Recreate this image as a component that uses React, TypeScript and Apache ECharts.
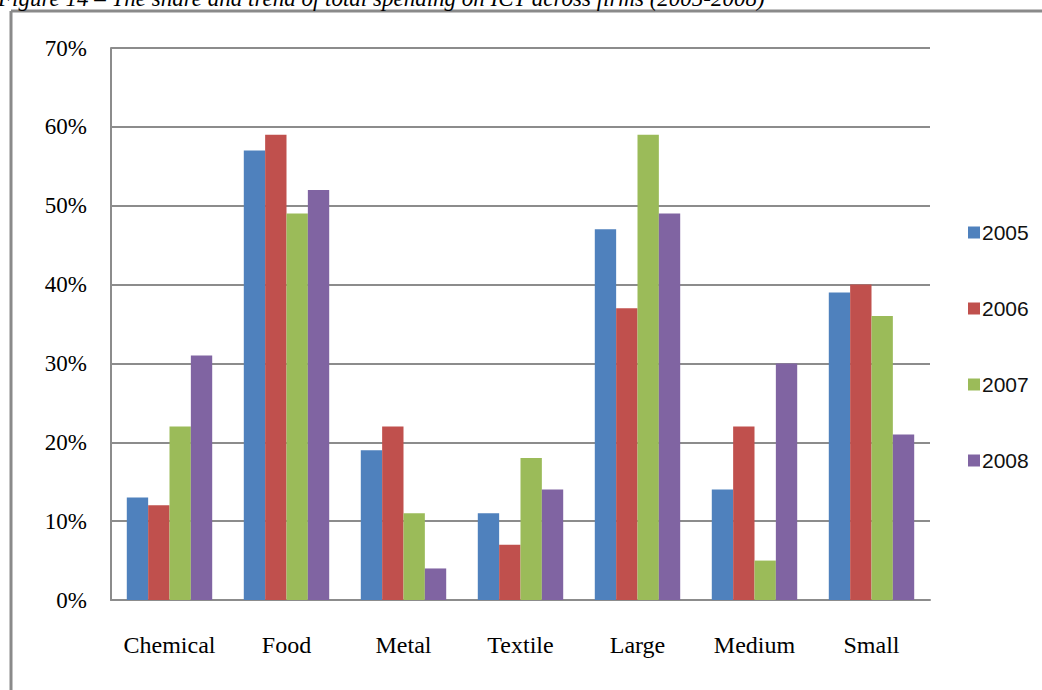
import React, { useEffect, useRef } from "react";
import * as echarts from "echarts";

const categories = ["Chemical", "Food", "Metal", "Textile", "Large", "Medium", "Small"];
const seriesNames = ["2005", "2006", "2007", "2008"];
const v2005 = [13, 57, 19, 11, 47, 14, 39];
const v2006 = [12, 59, 22, 7, 37, 22, 40];
const v2007 = [22, 49, 11, 18, 59, 5, 36];
const v2008 = [31, 52, 4, 14, 49, 30, 21];
const colors = ["#4F81BD", "#C0504D", "#9BBB59", "#8064A2"];
const titleText = "Figure 14 \u2013 The share and trend of total spending on ICT across firms (2005-2008)";

export default function App() {
  const ref = useRef<HTMLDivElement>(null);
  useEffect(() => {
    if (!ref.current) return;
    const chart = echarts.init(ref.current, undefined, { renderer: "svg" });
    const data = [v2005, v2006, v2007, v2008];
    chart.setOption({
      animation: false,
      backgroundColor: "#ffffff",
      color: colors,
      grid: { left: 111, top: 48, right: 112, bottom: 90, containLabel: false },
      legend: {
        orient: "vertical",
        left: 963,
        top: 217,
        itemWidth: 12,
        itemHeight: 12,
        itemGap: 55,
        icon: "rect",
        textStyle: { fontFamily: "Liberation Sans", fontSize: 21, color: "#111", padding: [0, 0, 0, -3] },
        data: seriesNames,
      },
      xAxis: {
        type: "category",
        data: categories,
        axisLine: { show: true, lineStyle: { color: "#8c8c8c", width: 2 } },
        axisTick: { show: false },
        axisLabel: { interval: 0, fontFamily: "Liberation Serif", fontSize: 24, color: "#000", margin: 33 },
      },
      yAxis: {
        type: "value",
        min: 0,
        max: 70,
        interval: 10,
        axisLine: { show: true, lineStyle: { color: "#8c8c8c", width: 2 } },
        axisTick: { show: false },
        splitLine: { lineStyle: { color: "#8c8c8c", width: 2 } },
        axisLabel: {
          formatter: "{value}%",
          fontFamily: "Liberation Serif",
          fontSize: 23,
          color: "#000",
          margin: 24,
        },
      },
      series: seriesNames.map((name, i) => ({
        name,
        type: "bar",
        data: data[i],
        barGap: "0%",
        barCategoryGap: "27%",
        itemStyle: { color: colors[i] },
      })),
      graphic: [
        {
          type: "line",
          shape: { x1: 11, y1: 11, x2: 11, y2: 700 },
          style: { stroke: "#8a8a8a", lineWidth: 3 },
        },
        {
          type: "line",
          shape: { x1: 11, y1: 11, x2: 1050, y2: 11 },
          style: { stroke: "#8a8a8a", lineWidth: 3 },
        },
        {
          type: "text",
          x: -2,
          y: -13,
          style: {
            text: titleText,
            fontFamily: "Liberation Serif",
            fontStyle: "italic",
            fontSize: 23,
            fill: "#000",
          },
        },
      ],
    });
    return () => chart.dispose();
  }, []);
  return (
    <div
      ref={ref}
      style={{ position: "fixed", left: 0, top: 0, width: 1042, height: 690 }}
    />
  );
}
